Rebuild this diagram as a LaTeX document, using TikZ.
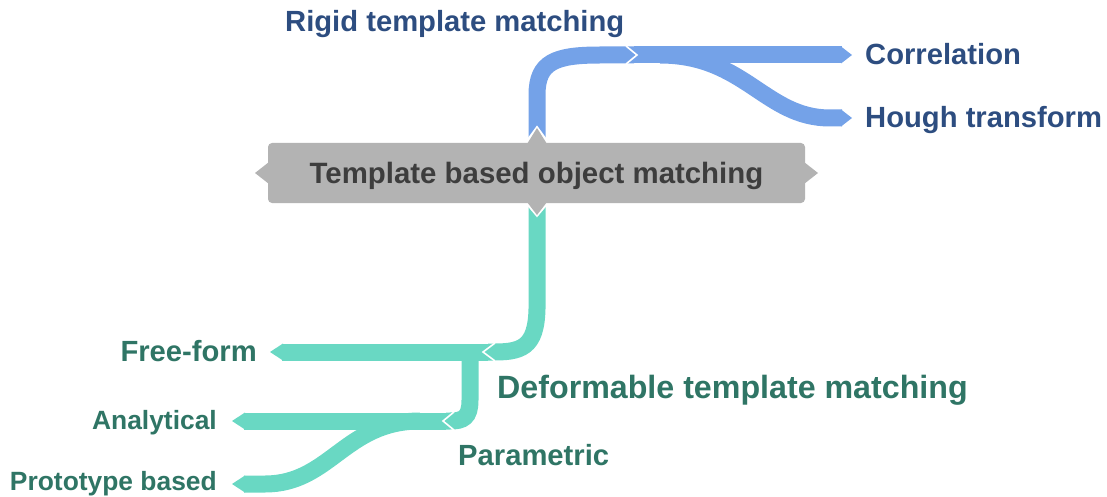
\documentclass[tikz,border=0pt]{standalone}
\usepackage{fontspec}
\setmainfont{Liberation Sans}
\definecolor{bandblue}{HTML}{74A2E8}
\definecolor{txtblue}{HTML}{2D4D80}
\definecolor{bandteal}{HTML}{69D8C3}
\definecolor{txtteal}{HTML}{2F7565}
\definecolor{boxgray}{HTML}{B3B3B3}
\definecolor{boxtxt}{HTML}{3D3D3D}
\tikzset{
  blueband/.style={draw=bandblue,line width=17pt},
  tealband/.style={draw=bandteal,line width=17pt},
  bluetip/.style={fill=bandblue},
  tealtip/.style={fill=bandteal},
  joint/.style={draw=white,line width=1.6pt,line join=miter},
  lbl/.style={inner sep=0pt,font=\bfseries\fontsize{29.2}{31}\selectfont},
  smalllbl/.style={font=\bfseries\fontsize{26.4}{28}\selectfont},
  bluelbl/.style={lbl,text=txtblue,anchor=base west},
  teallbl/.style={lbl,text=txtteal,anchor=base east},
  rootbox/.style={fill=boxgray,rounded corners=4pt,minimum width=537pt,minimum height=60pt,
     text=boxtxt,font=\bfseries\fontsize{29.4}{31}\selectfont,text height=20pt,text depth=0pt,inner sep=0pt}
}
\begin{document}
\begin{tikzpicture}[x=1pt,y=-1pt]
\useasboundingbox (0,0) rectangle (1107,497);
% coordinates
\coordinate (rtop) at (537,142);
\coordinate (rbot) at (537,203);
\coordinate (rigidj) at (634,55);
\coordinate (corrend) at (842,55);
\coordinate (houghend) at (842,118);
\coordinate (defj) at (488,352);
\coordinate (freeend) at (282,352);
\coordinate (paraj) at (446,421);
\coordinate (anaend) at (244,421);
\coordinate (protoend) at (244,484);
% blue bands
\draw[blueband] (rtop) -- (537,95) .. controls (537,62) and (555,55) .. (600,55) -- (rigidj);
\draw[blueband] (rigidj) -- (corrend);
\draw[blueband] (660,55) .. controls (745,55) and (765,118) .. (830,118) -- (houghend);
\fill[bluetip] (841,46.5) -- (852,55) -- (841,63.5) -- cycle;
\fill[bluetip] (841,109.5) -- (852,118) -- (841,126.5) -- cycle;
\draw[joint] (626,46) -- (637,55) -- (626,64);
% teal bands
\draw[tealband] (rbot) -- (537,300) .. controls (538,345) and (525,352) .. (495,352) -- (defj);
\draw[tealband] (defj) -- (freeend);
\draw[tealband] (470,352) -- (470,400) .. controls (470,418) and (463,421) .. (450,421) -- (paraj);
\draw[tealband] (paraj) -- (anaend);
\draw[tealband] (420,421) .. controls (345,421) and (330,484) .. (265,484) -- (protoend);
\fill[tealtip] (283,343.5) -- (270,352) -- (283,360.5) -- cycle;
\fill[tealtip] (245,412.5) -- (232,421) -- (245,429.5) -- cycle;
\fill[tealtip] (245,475.5) -- (232,484) -- (245,492.5) -- cycle;
\draw[joint] (495,343) -- (483,352) -- (495,361);
\draw[joint] (454,412) -- (443,421) -- (454,430);
% notch halos
\draw[white,line width=3pt] (526,143) -- (537,128) -- (548,143);
\draw[white,line width=3pt] (526,202) -- (537,215) -- (548,202);
% root box
\node[rootbox] (root) at (536.5,173) {Template based object matching};
\fill[boxgray] (527,144) -- (537,128) -- (547,144) -- cycle;
\fill[boxgray] (527,202) -- (537,215) -- (547,202) -- cycle;
\fill[boxgray] (269,162) -- (255,173) -- (269,184) -- cycle;
\fill[boxgray] (804,162) -- (818,173) -- (804,184) -- cycle;
% labels
\node[bluelbl] (rigid) at (285,32) {Rigid template matching};
\node[bluelbl] (corr) at (865,65) {Correlation};
\node[bluelbl] (hough) at (865,128) {Hough transform};
\node[teallbl] (free) at (257,361) {Free-form};
\node[teallbl,smalllbl] (ana) at (217,429) {Analytical};
\node[teallbl,smalllbl] (proto) at (217,490) {Prototype based};
\node[lbl,text=txtteal,anchor=base west,font=\bfseries\fontsize{32.2}{34}\selectfont] (deform) at (497,398) {Deformable template matching};
\node[lbl,text=txtteal,anchor=base west] (para) at (458,465) {Parametric};
\end{tikzpicture}
\end{document}
